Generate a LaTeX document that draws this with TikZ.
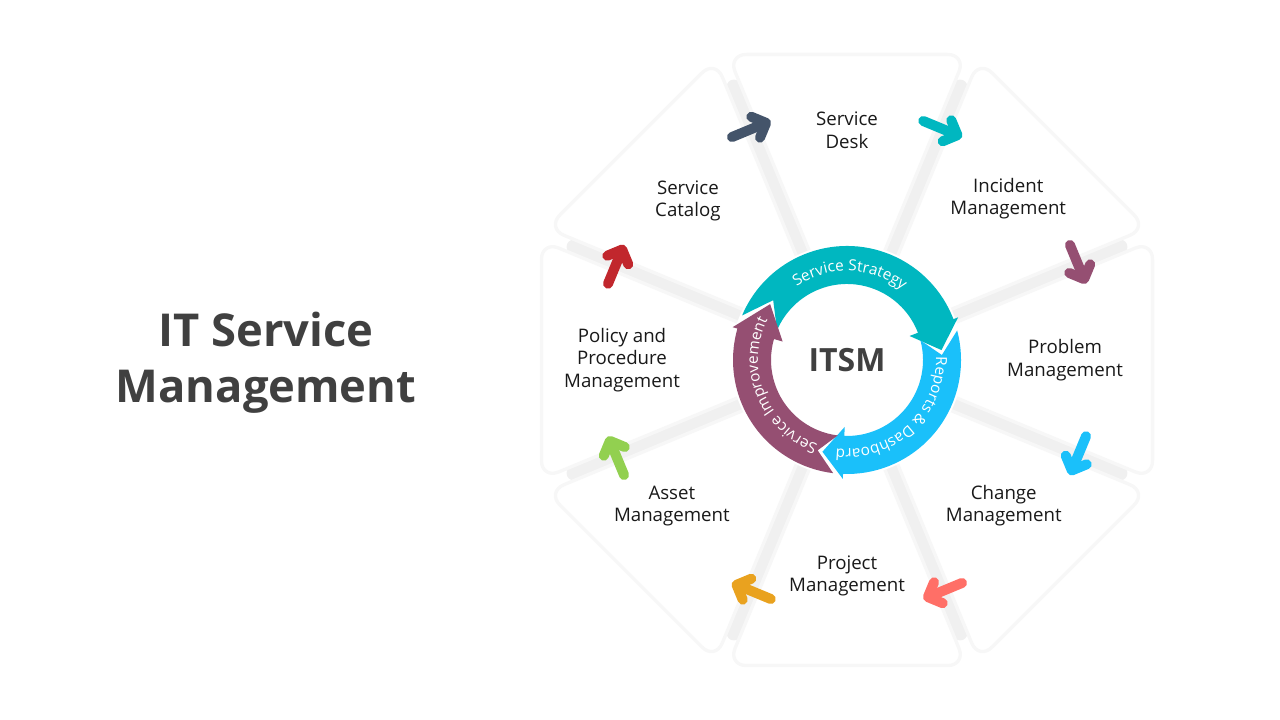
\documentclass[tikz,border=0pt]{standalone}
\usepackage{fontspec}
\setmainfont{Open Sans}
\usepackage{tikz}
\usetikzlibrary{arrows.meta,decorations.text}

\definecolor{ink}{HTML}{404040}
\definecolor{gapgray}{HTML}{F0F0F0}
\definecolor{slate}{HTML}{44546A}
\definecolor{tealc}{HTML}{00B7C0}
\definecolor{plum}{HTML}{954F72}
\definecolor{skyc}{HTML}{1AC0FA}
\definecolor{coral}{HTML}{FF6F67}
\definecolor{amber}{HTML}{E9A21F}
\definecolor{leaf}{HTML}{92D050}
\definecolor{brick}{HTML}{C1272D}
\newcommand\ringfont{\fontsize{11.5}{12}\selectfont\color{white}}

\begin{document}
\begin{tikzpicture}[
        x=0.75pt, y=0.75pt,
        gap/.style   = {gapgray, line width=10.5pt, line cap=round},
        piece/.style = {fill=white, draw=black!3, line width=2.5pt, rounded corners=14pt},
        lbl/.style   = {align=center, text=black!90, font=\fontsize{14}{17}\selectfont},
        turn/.style  = {line width=7.5pt, line cap=round, -{Straight Barb[length=8.5pt, width=17pt, round]}},
        head/.style  = {align=center, text=ink, font=\bfseries\fontsize{34}{42}\selectfont},
        core/.style  = {text=ink, font=\bfseries\fontsize{24}{24}\selectfont}
    ]
    \useasboundingbox (0,0) rectangle (1280,720);

    \node[head] (title) at (266,357) {IT Service\\Management};

    \begin{scope}[shift={(847,360)}]
        \foreach \a in {22.5,67.5,...,337.5}
            \draw[gap] (0,0) -- (\a:296);
        \foreach \a in {0,45,...,315}
            \path[piece] (\a:18) -- (\a+21.3:328) -- (\a-21.3:328) -- cycle;

        \fill[white] (0,0) circle[radius=116];
        \foreach \col/\ta/\na/\ba/\pa in {tealc/157/141/21/6, skyc/15/3/-92/-105, plum/-97/-108/-196/-216}
            \fill[\col] (\ta:114) arc[start angle=\ta, end angle=\ba, radius=114]
                -- (\ba:119) -- (\pa:95) -- (\ba:67) -- (\ba:76)
                arc[start angle=\ba, end angle=\ta, radius=76] -- (\na:95) -- cycle;

        \path[decorate, decoration={text along path, text align=center,
                text={|\ringfont|Service Strategy}}]
            (150:89) arc[start angle=150, end angle=26, radius=89];
        \path[decorate, decoration={text along path, text align=center,
                text={|\ringfont|Reports {\&} Dashboard}}]
            (12:89) arc[start angle=12, end angle=-107, radius=89];
        \path[decorate, decoration={text along path, text align=center,
                text={|\ringfont|Service Improvement}}]
            (-100:89) arc[start angle=-100, end angle=-216, radius=89];

        \node[core] (itsm) at (0,0) {ITSM};

        \foreach \a/\r/\txt [count=\i] in {90/230/{Service\\Desk}, 45/228/{Incident\\Management},
                0/218/{Problem\\Management}, -42.9/214/{Change\\Management}, -90/216/{Project\\Management},
                -140.2/228/{Asset\\Management}, 180/225/{Policy and\\Procedure\\Management}, 135/225/{Service\\Catalog}}
            \node[lbl] (p\i) at (\a:\r) {\txt};

        \foreach \a/\col [count=\i] in {112.5/slate, 67.5/tealc, 22.5/plum, -22.5/skyc,
                -67.5/coral, -112.5/amber, -157.5/leaf, 157.5/brick} {
            \begin{scope}[shift={(\a:250)}, rotate=\a-90]
                \coordinate (s\i) at (-21,0);
                \coordinate (e\i) at (21,0);
            \end{scope}
            \draw[turn, \col] (s\i) -- (e\i);
        }
    \end{scope}
\end{tikzpicture}
\end{document}
